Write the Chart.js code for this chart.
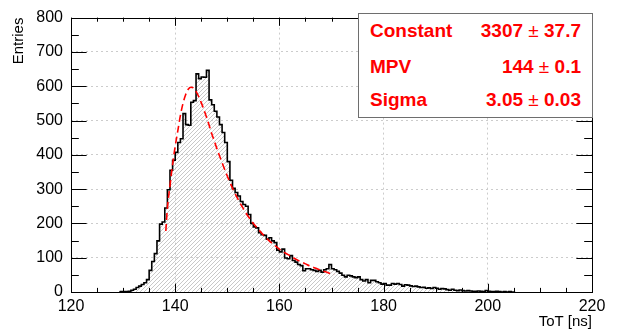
<!DOCTYPE html>
<html><head><meta charset="utf-8">
<script src="https://cdn.jsdelivr.net/npm/chart.js@4.4.0/dist/chart.umd.min.js"></script>
<style>
html,body{margin:0;padding:0;background:#fff;}
#wrap{position:relative;width:618px;height:331px;overflow:hidden;background:#fff;}
canvas{position:absolute;left:0;top:0;}
#box{position:absolute;left:358px;top:13px;width:233px;height:103px;border:1px solid #6e6e6e;background:#fff;}
.st{position:absolute;font-family:"Liberation Sans",Arial,Helvetica,sans-serif;font-weight:bold;font-size:19px;line-height:19px;color:#ff0000;white-space:pre;}
.pm{font-weight:normal;}
</style></head><body>
<div id="wrap"><canvas id="c" width="618" height="331"></canvas><div id="box"></div></div>
<script>
// ---- data ----
const HIST_START = 129.0;   // lower edge of first listed bin [ns]
const BIN_WIDTH = 0.5;      // ns
const counts = [
 0,1,1,1,2,5,8,13,17,22,27,36,63,89,112,149,198,204,245,298,
 355,384,407,436,447,520,488,486,553,558,636,622,627,626,646,560,546,527,510,488,
 465,436,380,326,302,290,280,264,255,250,226,200,190,187,173,167,165,154,158,149,
 144,122,117,125,99,97,106,92,87,80,77,62,68,68,65,63,60,63,58,65,
 68,80,68,65,60,55,49,44,49,47,44,42,44,36,32,36,27,34,34,30,
 27,23,25,20,20,25,23,25,22,17,21,20,18,16,17,15,13,14,11,12,
 10,13,11,8,10,9,7,5,8,5,4,6,4,3,4,3,2,2,3,2,
 1,4,2,1,1,2,1,0,1,0,1,0,0
];
const fitX = [138.2,138.5,139,139.5,140,140.5,141,141.5,142,142.5,143,143.5,144,144.5,145,145.5,146,146.5,147,147.5,148,148.5,149,149.5,150,151,152,153,154,155,156,157,158,159,160,161,162,163,164,165,166,167,168,169,170,170.5];
const fitY = [178,245,310,372,425,470,515,550,575,591,597,595,585,570,552,532,510,487,462,440,418,397,377,357,338,303,272,245,221,200,182,165,150,137,125,115,106,97,89,82,75,69,63,58,53,51];
const xTicks = [120,140,160,180,200,220];
const yTicks = [0,100,200,300,400,500,600,700,800];
const statNames = ['Constant','MPV','Sigma'];
const statValues = ['3307','144','3.05'];
const statErrors = ['37.7','0.1','0.03'];

const FONT = '"Liberation Sans", Arial, Helvetica, sans-serif';

// histogram points at bin centres, steps at bin edges
const histData = counts.map((c, i) => ({x: HIST_START + (i + 0.5) * BIN_WIDTH, y: c}));
const fitData = fitX.map((x, i) => ({x: x, y: fitY[i]}));

// hatch pattern
const pc = document.createElement('canvas');
pc.width = 4; pc.height = 4;
const pctx = pc.getContext('2d');
pctx.strokeStyle = '#b0b0b0';
pctx.lineWidth = 0.7;
pctx.beginPath();
pctx.moveTo(-1, 5); pctx.lineTo(5, -1);
pctx.moveTo(-1, 1); pctx.lineTo(1, -1);
pctx.moveTo(3, 5); pctx.lineTo(5, 3);
pctx.stroke();
const hatch = pctx.createPattern(pc, 'repeat');

const rootFrame = {
  id: 'rootFrame',
  afterDatasetsDraw(chart) {
    const {ctx, chartArea: a, scales: {x, y}} = chart;
    ctx.save();
    ctx.strokeStyle = '#000';
    ctx.lineWidth = 1;
    const xl = 0.03 * (a.bottom - a.top), yl = 0.03 * (a.right - a.left);
    ctx.beginPath();
    const xStep = (xTicks[1] - xTicks[0]) / 4;
    for (let v = xTicks[0]; v <= xTicks[xTicks.length - 1] + 1e-9; v += xStep) {
      const px = Math.round(x.getPixelForValue(v)) + 0.5;
      const L = xTicks.includes(v) ? xl : xl / 2;
      ctx.moveTo(px, a.bottom); ctx.lineTo(px, a.bottom - L);
      ctx.moveTo(px, a.top); ctx.lineTo(px, a.top + L);
    }
    const yStep = (yTicks[1] - yTicks[0]) / 2;
    for (let v = yTicks[0]; v <= yTicks[yTicks.length - 1] + 1e-9; v += yStep) {
      const py = Math.round(y.getPixelForValue(v)) + 0.5;
      const L = yTicks.includes(v) ? yl : yl / 2;
      ctx.moveTo(a.left, py); ctx.lineTo(a.left + L, py);
      ctx.moveTo(a.right, py); ctx.lineTo(a.right - L, py);
    }
    ctx.stroke();
    ctx.strokeRect(Math.round(a.left) + 0.5, Math.round(a.top) + 0.5, Math.round(a.right - a.left), Math.round(a.bottom - a.top));
    ctx.restore();
  }
};

const chart = new Chart(document.getElementById('c'), {
  type: 'line',
  data: {datasets: [
    {label: 'ToT', data: histData, stepped: 'middle', borderColor: '#000', borderWidth: 1.6,
     pointRadius: 0, fill: 'origin', backgroundColor: hatch, order: 2},
    {label: 'Landau fit', data: fitData, borderColor: '#ff0000', borderWidth: 1.6, borderDash: [7, 4],
     pointRadius: 0, fill: false, cubicInterpolationMode: 'monotone', order: 1}
  ]},
  options: {
    responsive: false, animation: false, devicePixelRatio: 1,
    layout: {padding: {left: 0, top: 13, right: 26, bottom: 0}},
    plugins: {legend: {display: false}, tooltip: {enabled: false}},
    scales: {
      x: {
        type: 'linear', min: xTicks[0], max: xTicks[xTicks.length - 1],
        afterBuildTicks: s => { s.ticks = xTicks.map(v => ({value: v})); },
        ticks: {font: {family: FONT, size: 16}, color: '#000', padding: 5, maxRotation: 0, autoSkip: false},
        grid: {drawTicks: false, lineWidth: 1,
               color: c => (c.tick && (c.tick.value === xTicks[0] || c.tick.value === xTicks[xTicks.length - 1])) ? 'rgba(0,0,0,0)' : '#cccccc'},
        border: {display: false, dash: [2, 3]},
        title: {display: true, text: 'ToT [ns]', align: 'end', color: '#000', font: {family: FONT, size: 15}, padding: {top: 0, bottom: 0}},
        afterFit: s => { s.height = 39; }
      },
      y: {
        type: 'linear', min: yTicks[0], max: yTicks[yTicks.length - 1],
        afterBuildTicks: s => { s.ticks = yTicks.map(v => ({value: v})); },
        ticks: {font: {family: FONT, size: 16}, color: '#000', padding: 8},
        grid: {drawTicks: false, lineWidth: 1,
               color: c => (c.tick && (c.tick.value === yTicks[0] || c.tick.value === yTicks[yTicks.length - 1])) ? 'rgba(0,0,0,0)' : '#cccccc'},
        border: {display: false, dash: [2, 3]},
        title: {display: true, text: 'Entries', align: 'end', color: '#000', font: {family: FONT, size: 15}, padding: {top: 10, bottom: 0}},
        afterFit: s => { s.width = 71; }
      }
    }
  },
  plugins: [rootFrame]
});

// stats box text
const wrap = document.getElementById('wrap');
const rowsTop = [20.6, 56.6, 89.9];
statNames.forEach((n, i) => {
  const a = document.createElement('div');
  a.className = 'st';
  a.style.left = '370px'; a.style.top = rowsTop[i] + 'px';
  a.textContent = n;
  wrap.appendChild(a);
  const b = document.createElement('div');
  b.className = 'st';
  b.style.right = (618 - 581) + 'px'; b.style.top = rowsTop[i] + 'px';
  b.style.textAlign = 'right';
  b.appendChild(document.createTextNode(statValues[i] + ' '));
  const pm = document.createElement('span');
  pm.className = 'pm';
  pm.textContent = '\u00b1';
  b.appendChild(pm);
  b.appendChild(document.createTextNode(' ' + statErrors[i]));
  wrap.appendChild(b);
});
</script>
</body></html>
